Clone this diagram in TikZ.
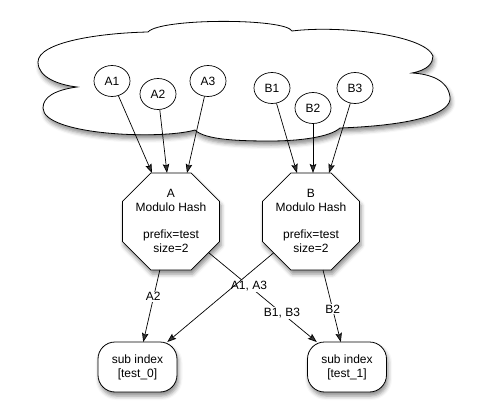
\documentclass[tikz,border=0pt]{standalone}
\usepackage{fontspec}
\setmainfont{Liberation Sans}
\usetikzlibrary{shapes.geometric,arrows.meta,shadows.blur}
\begin{document}
\begin{tikzpicture}[x=1pt,y=-1pt,
  every node/.style={font=\fontsize{12pt}{13.8pt}\selectfont},
  myshadow/.style={blur shadow={shadow xshift=1.5pt, shadow yshift=-4pt, shadow blur radius=4pt, shadow opacity=45}},
  leaf/.style={draw, ellipse, fill=white, minimum width=36pt, minimum height=31pt, inner sep=0pt, line width=0.7pt},
  hashbox/.style={draw, regular polygon, regular polygon sides=8, minimum size=105pt, inner sep=0pt, outer sep=0pt, fill=white, line width=0.8pt, myshadow},
  hashtext/.style={align=center, inner sep=0pt},
  subbox/.style={draw, rounded corners=17pt, fill=white, minimum width=79pt, minimum height=50pt, align=center, outer sep=0pt, line width=0.8pt, myshadow},
  conn/.style={-{Stealth[length=9pt,width=6.5pt,inset=1.5pt]}, line width=0.7pt},
  lbl/.style={fill=white, inner sep=1pt}]
\useasboundingbox (0,0) rectangle (483,415);
% cloud
\path[draw, fill=white, line width=0.8pt, myshadow]
  (148,32) .. controls (100,33) and (38,42) .. (38,62)
  .. controls (38,78) and (60,85) .. (77,87)
  .. controls (55,90) and (43,97) .. (43,108)
  .. controls (43,135) and (160,140) .. (195,130)
  .. controls (205,140) and (240,141) .. (270,141)
  .. controls (300,141) and (330,137) .. (340,128)
  .. controls (420,125) and (452,112) .. (450,97)
  .. controls (448,80) and (430,74) .. (412,73)
  .. controls (428,70) and (433,63) .. (433,56)
  .. controls (425,35) and (340,25) .. (292,31)
  .. controls (285,18) and (160,18) .. (148,32) -- cycle;
% leaves
\node[leaf] (A1) at (112,81) {A1};
\node[leaf] (A2) at (158,94) {A2};
\node[leaf] (A3) at (208,81) {A3};
\node[leaf] (B1) at (272,88) {B1};
\node[leaf] (B2) at (313,108) {B2};
\node[leaf] (B3) at (355,88) {B3};
% hash octagons
\node[hashbox] (HA) at (171,221.5) {};
\node[hashtext] (HAt) at (171,221) {A\\Modulo Hash\\[13.8pt]prefix=test\\size=2};
\node[hashbox] (HB) at (311,221.5) {};
\node[hashtext] (HBt) at (311,221) {B\\Modulo Hash\\[13.8pt]prefix=test\\size=2};
% sub indexes
\node[subbox] (S0) at (137.5,367) {sub index\\{}[test\_0]};
\node[subbox] (S1) at (347,367) {sub index\\{}[test\_1]};
% arrows into hashes
\draw[conn] (A1) -- ([xshift=-19pt]HA.north);
\draw[conn] (A2) -- ([xshift=-4pt]HA.north);
\draw[conn] (A3) -- ([xshift=16pt]HA.north);
\draw[conn] (B1) -- ([xshift=-14pt]HB.north);
\draw[conn] (B2) -- ([xshift=2pt]HB.north);
\draw[conn] (B3) -- ([xshift=18pt]HB.north);
% outputs
\draw[conn] (HA) -- (S0);
\draw[conn] (HA) -- (S1);
\draw[conn] (HB) -- (S1);
\node[lbl] (lA2) at (153.3,296.7) {A2};
\node[lbl] (lA13) at (249,286) {A1, A3};
\node[lbl] (lB13) at (282,312.7) {B1, B3};
\node[lbl] (lB2) at (332.7,309.3) {B2};
\draw[conn] (HB) -- (S0);
\end{tikzpicture}
\end{document}
